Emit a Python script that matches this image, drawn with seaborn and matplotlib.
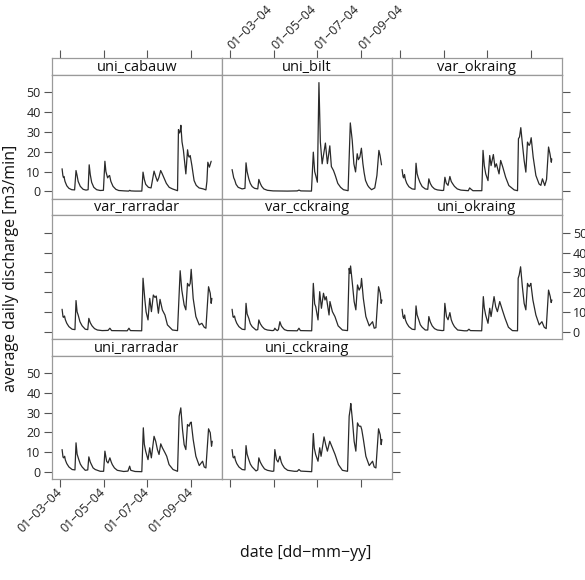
import pandas as pd
import matplotlib
matplotlib.use("Agg")
import matplotlib.pyplot as plt
import seaborn as sns

# daily discharge per station: (days after 01-03-04, m3/min)
start = pd.Timestamp("2004-03-01")
panels = ["uni_cabauw", "uni_bilt", "var_okraing",
          "var_rarradar", "var_cckraing", "uni_okraing",
          "uni_rarradar", "uni_cckraing"]
tick_dates = ["2004-03-01", "2004-05-01", "2004-07-01", "2004-09-01"]
tick_labels = ["01\u221203\u221204", "01\u221205\u221204", "01\u221207\u221204", "01\u221209\u221204"]
y_ticks = [0, 10, 20, 30, 40, 50]

uni_cabauw = [(2.4, 11.4), (3.5, 8), (4.3, 7), (5, 7.5), (6.5, 5), (9, 2.8), (12, 1.5), (16, 0.8), (20, 0.7),
              (22, 10.5), (23.5, 8), (25, 5), (28, 2.5), (32, 1), (36, 0.6), (39, 0.8), (40.5, 13.4), (42, 8.5),
              (44, 4.5), (47, 2), (51, 0.8), (56, 0.4), (60.5, 0.5), (62.6, 15.2), (64, 10), (66.4, 6.8),
              (67.5, 7.5), (69.2, 8), (71, 5), (74, 2.5), (78, 1), (82, 0.4), (90, 0.2), (96, 0.1), (97.5, 0.5),
              (99, 0.2), (105, 0.1), (114.5, 0.1), (116.2, 9.7), (118, 6), (120, 3.5), (123.8, 2), (127.5, 1.7),
              (131.7, 10.2), (134, 7.5), (136.4, 5.1), (138.5, 7), (141, 10.5), (143, 9), (146, 6.5), (149, 4),
              (153, 2), (157.6, 1.2), (164.7, 0.3), (166, 31.2), (167.5, 29.5), (168.5, 30.5), (169.4, 33.4),
              (171, 25), (173, 20.7), (176.4, 8.8), (178.8, 21), (180, 18), (181, 17.3), (182.5, 18.1),
              (184.9, 13), (186.5, 9), (188, 5.4), (191, 3), (195, 1.7), (200.9, 1.2), (204.6, 0.7), (206, 5),
              (207.3, 14.7), (209.5, 12.2), (212, 15.2)]

uni_bilt = [(2.4, 11), (3.5, 9), (4.7, 6.8), (6, 5.8), (8, 3.5), (11, 2), (16.5, 1.2), (20.5, 1.5), (22, 14.4),
            (23.5, 10), (25.9, 6.3), (28, 4), (30.6, 2.4), (34, 1.5), (38.5, 1.2), (40, 6), (42, 4), (44, 2.5),
            (47, 1.2), (52, 0.5), (60, 0.2), (80, 0.1), (94, 0.2), (96.5, 0.6), (99, 0.2), (114, 0.1),
            (116.6, 19.8), (118.5, 10), (120, 8), (122.3, 4.6), (124.5, 55), (126.5, 25), (129, 13.9),
            (133.6, 24.4), (136.4, 14), (139.8, 23), (142, 12.5), (145, 10.5), (147.5, 8), (151, 4), (155, 2),
            (159, 0.8), (165.5, 0.3), (168.6, 34.6), (171.3, 25.8), (173.6, 13.9), (176, 9.8), (178.3, 19),
            (180, 16), (182, 17.3), (184.2, 21.8), (186.3, 14), (188, 9.5), (190, 5.5), (193, 3), (195, 2),
            (198.5, 0.8), (203, 1.7), (206, 8), (208.8, 20.7), (210.5, 18), (212.5, 13.4)]

var_okraing = [(2.4, 11), (3.7, 7.5), (4.5, 6.8), (5.8, 8.5), (7, 6), (9, 4), (12, 2.3), (16.5, 1.2), (20.5, 1),
               (22, 14.2), (23.5, 9), (25, 7), (27.5, 4.5), (30.6, 2.4), (35, 1.2), (38.5, 1), (40, 6.3), (42, 4),
               (44.5, 2.4), (48, 1.2), (52, 0.7), (58.8, 0.4), (60.8, 0.5), (62.6, 7.1), (64.5, 4.1), (67, 3),
               (69.6, 7.5), (71.5, 5), (73, 4.1), (76, 2.5), (80, 1.2), (85, 0.6), (95.5, 0.3), (97.4, 1.7),
               (99.5, 1), (102, 0.3), (114.5, 0.3), (116.2, 20.7), (118, 13), (120, 8.8), (123.2, 5.4),
               (125.6, 18.1), (127.5, 13), (130.7, 18.6), (133, 12.2), (135, 13.9), (138.7, 8.8), (141, 15.6),
               (144, 12.2), (148, 7.1), (152.5, 2.9), (160, 0.7), (164.7, 0.3), (166, 26.6), (167.5, 27.5),
               (169.3, 32.2), (171.5, 24.1), (174, 15.6), (176.4, 9.7), (178.7, 24.9), (181, 23.2), (182.3, 24.1),
               (183.9, 27.1), (186.7, 17.3), (190.5, 8), (195, 3.7), (197.5, 3), (199.7, 6.3), (203, 2.9),
               (205.5, 6), (208.3, 22.4), (210.3, 19), (212.2, 14.7), (212.8, 16.4)]

var_rarradar = [(2.4, 11.3), (3.7, 7.5), (4.5, 7.2), (5.8, 7.9), (7, 6), (9, 4.2), (12, 2.5), (16.5, 1.2),
                (20.5, 1), (22, 15.7), (23.5, 10), (25, 8.4), (27.5, 5), (30.6, 2.9), (35, 1.2), (38.5, 1),
                (40, 6.7), (42, 4.5), (44.5, 2.9), (48, 1.5), (52, 0.8), (58.8, 0.5), (67, 0.6), (69.6, 1.7),
                (72, 0.5), (94, 0.4), (96.4, 1.7), (98.5, 0.5), (114.3, 0.4), (116.2, 27), (118.8, 16),
                (120.5, 10), (123.2, 5.9), (125.6, 16.8), (128, 10.1), (130.7, 18.5), (133, 17.3), (134.8, 18),
                (137.8, 9.3), (140.1, 16.3), (143.4, 10.9), (147, 8.4), (150.5, 3.4), (157.6, 0.8), (164.7, 0.5),
                (168.4, 30.8), (170.7, 21), (174, 13.5), (176.4, 11), (178.7, 24.4), (181, 23), (182.5, 24.4),
                (183.9, 31.5), (186.7, 16.8), (190.5, 7.6), (195.2, 3.4), (198.9, 4.2), (202.2, 2.2), (204.6, 1.7),
                (208.3, 22.7), (210.7, 19.4), (212, 14.3), (213, 16.8)]

var_cckraing = [(2.4, 11.3), (3.7, 7.5), (4.5, 7.2), (5.8, 7.9), (7, 6), (9, 4.2), (12, 2.5), (16.5, 1.2),
                (20.5, 1), (22, 14.3), (23.5, 9), (25.9, 6.7), (28, 4), (30.6, 2.5), (36, 0.8), (38.5, 1),
                (40, 5.9), (42, 4), (44.7, 2.5), (48, 1.3), (52, 0.8), (58.8, 0.5), (61, 0.6), (62.5, 1.7),
                (64, 1), (66, 0.5), (67.5, 1), (69.6, 5), (71.5, 3), (73, 2.2), (76, 1), (80, 0.5), (94, 0.4),
                (96.4, 1.7), (98.5, 0.5), (114.3, 0.4), (116.6, 24.4), (118.5, 14), (120, 12.6), (123.2, 5.9),
                (125.6, 20.2), (128, 11.8), (130.9, 19.4), (133, 16), (134.8, 17.7), (138.7, 8.4), (140, 15.2),
                (143.4, 10.1), (147, 7.6), (151.5, 2.9), (157.5, 0.8), (164.7, 0.5), (167, 32), (168.2, 29.5),
                (169, 33.2), (171.5, 24.4), (174, 15.2), (176.4, 11), (178.7, 23.6), (181, 21), (183.3, 22.7),
                (184.4, 26.9), (186.9, 16.8), (190.5, 7.6), (195.2, 2.9), (199.9, 5), (202.2, 1.7), (204.6, 2),
                (208.3, 22.7), (210.7, 19.4), (212, 14.3), (213, 16)]

uni_okraing = [(2.4, 11.3), (3.7, 7.5), (4.7, 6.7), (6, 8.4), (7, 6), (9, 4.2), (12, 2.5), (16.5, 1.2),
               (20.5, 1), (22, 13), (23.5, 8.5), (25.9, 5.9), (28, 3.5), (30.6, 2.2), (35, 0.8), (38.5, 0.8),
               (40, 7.6), (42, 5), (44.7, 2.9), (48, 1.5), (52, 0.8), (58.8, 0.5), (61, 0.6), (62.5, 14.3),
               (64.8, 7.6), (67, 6), (69.6, 9.6), (71.5, 6), (73.4, 4.2), (76, 2.5), (80.5, 0.8), (90, 0.4),
               (94, 0.4), (96.4, 1.2), (98.5, 0.5), (114.3, 0.4), (116.6, 17.7), (118, 12), (119.9, 8.4),
               (123.2, 4.2), (125.6, 11.8), (127.5, 7.6), (131.7, 17.7), (134, 12.6), (136.4, 10.1),
               (139.7, 15.2), (143.4, 10.9), (147.2, 6.7), (151.9, 2.2), (157.5, 0.5), (164.7, 0.4),
               (165.6, 27), (167, 28.6), (169, 32.8), (171.5, 22.7), (174, 14.3), (176.4, 11), (178.7, 24.4),
               (181, 22.7), (182.5, 23.6), (183.4, 24.4), (186.3, 16), (190.5, 8.4), (195.2, 3.4), (199, 5),
               (202.2, 2.2), (205, 1.5), (208.3, 21), (210.7, 17.7), (212, 14.7), (213, 16)]

uni_rarradar = [(2.4, 11.3), (3.7, 7.5), (4.7, 7.1), (6, 7.9), (7, 6), (9, 4.2), (12, 2.5), (16.5, 1.2),
                (20.5, 1), (22, 14.7), (23.5, 9), (25.9, 6.2), (28, 4), (30.6, 2.5), (35, 0.8), (38.5, 1),
                (40, 7.6), (42, 5), (43.7, 3.7), (46, 2), (49, 1.2), (56, 0.3), (60.8, 0.3), (62.6, 10.5),
                (65, 5.4), (67, 4.5), (69.6, 7.1), (71.5, 5), (73, 3.7), (76, 2), (80, 0.8), (89, 0.2),
                (95, 0.4), (97.4, 2.9), (99, 0.8), (105, 0.2), (114.5, 0.1), (116.6, 22.3), (118, 14),
                (119.9, 10.5), (123.2, 6.2), (125.6, 12.2), (127.9, 7.1), (131.7, 18), (134, 15.5),
                (136.4, 11.3), (138.7, 8.8), (141.1, 14.2), (143.4, 12.2), (147.2, 9.6), (149.5, 7.9),
                (152.8, 3.7), (158.4, 1.2), (164.7, 0.3), (167, 28.2), (169.3, 32.4), (171.7, 21.4), (174, 13.8),
                (176.4, 11.3), (178.7, 24), (181, 23.1), (182.5, 24.8), (183.9, 25.2), (186.7, 16.4),
                (190.5, 7.9), (195.2, 3.2), (199.9, 5.4), (202.2, 2.5), (204.6, 2), (208.3, 21.8), (210.7, 19.8),
                (212.5, 13), (213.5, 15.5)]

uni_cckraing = [(2.4, 11.3), (3.7, 7.5), (4.7, 7.1), (6, 7.9), (7, 6), (9, 4.2), (12, 2.5), (16.5, 1.2),
                (20.5, 1), (22, 13.3), (23.5, 9), (25.9, 6.2), (28, 4), (30.6, 2.5), (36, 0.5), (38.5, 1),
                (40, 7.1), (42, 5), (44.7, 3.2), (48, 1.5), (52, 0.8), (58.8, 0.3), (61, 0.4), (62.5, 11.3),
                (64.8, 6.2), (67, 5), (69.6, 7.9), (71.5, 5), (73, 3.7), (76, 2), (80.5, 0.8), (90, 0.3),
                (94, 0.3), (96.4, 1.2), (99, 0.4), (114.3, 0.1), (116.6, 19.4), (118, 12), (119.9, 8.8),
                (123.2, 5.4), (125.6, 12.2), (127.5, 7.9), (131.7, 17.7), (134, 13.8), (136.4, 10.5),
                (139.7, 15.5), (143.4, 12.2), (147.2, 8.8), (151.9, 3.7), (157.5, 0.8), (164.7, 0.3),
                (167, 28.2), (168.4, 31.6), (169.3, 34.6), (171.5, 26.5), (174, 15.5), (176.4, 10.5),
                (178.7, 24.8), (181, 23.1), (183.3, 23.1), (184.7, 21.4), (187, 16.4), (190.5, 7.9), (195.2, 3.2),
                (199.9, 5.4), (202.2, 2.5), (204.6, 2), (208.3, 21.8), (210.7, 18.7), (212, 13.8), (213, 16.4)]

series = [uni_cabauw, uni_bilt, var_okraing, var_rarradar, var_cckraing,
          uni_okraing, uni_rarradar, uni_cckraing]

sns.set_theme(style="white")
plt.rcParams["font.family"] = ["Open Sans", "DejaVu Sans"]

W, H = 585, 580
fig = plt.figure(figsize=(W / 100, H / 100), dpi=100)


def rect(x0, y0, w, h):
    return [x0 / W, 1 - (y0 + h) / H, w / W, h / H]


col_x = [51.7, 221.7, 391.7]
row_y = [58.3, 198.6, 338.9]
panel_w, strip_h, panel_h = 170, 16.8, 123.5
border = "#9a9a9a"
xlim = (start - pd.Timedelta(days=12.2), start + pd.Timedelta(days=226.8))
xt = pd.to_datetime(tick_dates)

for i, (name, pts) in enumerate(zip(panels, series)):
    r, c = divmod(i, 3)
    sax = fig.add_axes(rect(col_x[c], row_y[r], panel_w, strip_h))
    ax = fig.add_axes(rect(col_x[c], row_y[r] + strip_h, panel_w, panel_h))

    df = pd.DataFrame(pts, columns=["day", "q"])
    df["date"] = start + pd.to_timedelta(df["day"], unit="D")
    sns.lineplot(data=df, x="date", y="q", ax=ax, color="#2a2a2a", lw=0.9)
    ax.set_xlabel("")
    ax.set_ylabel("")
    ax.set_xlim(*xlim)
    ax.set_ylim(-3.7, 58.8)
    sax.set_xlim(*xlim)
    sax.set_yticks([])

    for a in (ax, sax):
        for s in a.spines.values():
            s.set_color(border)
            s.set_linewidth(0.9)
        a.set_xticks(xt)
        a.tick_params(direction="out", length=5.5, width=0.8, color="#555555",
                      labelsize=9, labelcolor="#222222", pad=2.5,
                      bottom=False, top=False, left=False, right=False,
                      labelbottom=False, labeltop=False, labelleft=False, labelright=False)
    sax.text(0.5, 0.45, name, ha="center", va="center", transform=sax.transAxes,
             fontsize=10.5, color="#111111")

    ax.set_yticks(y_ticks)
    ax.set_yticklabels([str(v) for v in y_ticks])

    # x axis: ticks on top of the first row, bottom of the last row
    if r == 0:
        sax.tick_params(top=True)
        if c == 1:
            sax.tick_params(labeltop=True)
            sax.set_xticklabels(tick_labels, rotation=45, ha="left", va="center",
                                rotation_mode="anchor")
    if r == 2:
        ax.tick_params(bottom=True)
        if c == 0:
            ax.tick_params(labelbottom=True)
            ax.set_xticklabels(tick_labels, rotation=45, ha="right", va="center",
                               rotation_mode="anchor")

    # y axis: left column and rightmost panel of each row
    if c == 0:
        ax.tick_params(left=True, labelleft=(r != 1))
    if i in (2, 5, 7):
        ax.tick_params(right=True, labelright=(i == 5))

fig.text(11 / W, 1 - 268 / H, "average daily discharge [m3/min]", rotation=90,
         ha="center", va="center", fontsize=11.5, color="#111111")
fig.text(306 / W, 1 - 553 / H, "date [dd\u2212mm\u2212yy]", ha="center", va="center",
         fontsize=11.5, color="#111111")

fig.savefig("out.png", dpi=100)
